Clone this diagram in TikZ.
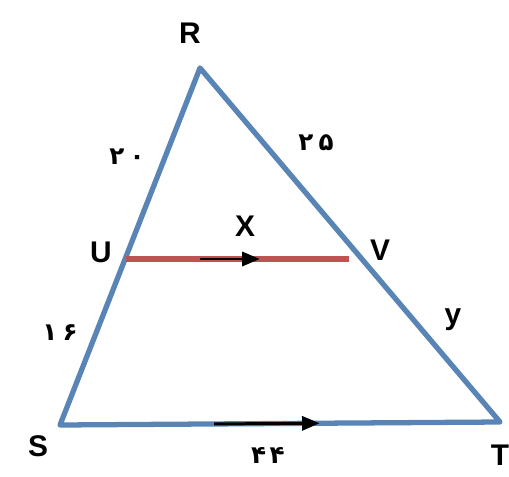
\documentclass[tikz,border=0pt]{standalone}
\usepackage{fontspec}
\setmainfont{Liberation Sans}
\newfontfamily\persianfont[Script=Arabic]{DejaVu Sans}
\usetikzlibrary{arrows.meta,calc}
\definecolor{sideblue}{RGB}{88,132,182}
\definecolor{midred}{RGB}{190,84,82}
\tikzset{
  vertexlabel/.style={font=\fontsize{17}{20}\selectfont\bfseries, inner sep=0pt},
  sidelabel/.style={font=\persianfont\bfseries\fontsize{14}{16}\selectfont, inner sep=0pt},
  side/.style={sideblue, line width=3pt, line join=round},
  parallel/.style={-{Triangle[length=10pt,width=8pt]}, line width=1.7pt, black}
}
\begin{document}
\begin{tikzpicture}[x=0.02cm,y=-0.02cm]
    \useasboundingbox (0,0) rectangle (509,476);
    % Vertices
    \coordinate (R) at (200,68);
    \coordinate (S) at (60,425);
    \coordinate (T) at (500,422);
    \coordinate (U) at (126,259);
    \coordinate (V) at (349,259);
    % Triangle
    \draw[side] (R) -- (S) -- (T) -- cycle;
    % Segment UV
    \draw[midred, line width=3.8pt] (U) -- (V);
    % Parallel marks
    \draw[parallel] ($(U)!0.33!(V)$) -- ($(U)!0.6!(V)$);
    \draw[parallel] ($(S)!0.35!(T)$) -- ($(S)!0.59!(T)$);
    % Letters
    \node[vertexlabel] (labR) at (190,33) {R};
    \node[vertexlabel] (labU) at (101,252) {U};
    \node[vertexlabel] (labV) at (380,250) {V};
    \node[vertexlabel] (labX) at (245,226) {X};
    \node[vertexlabel] (laby) at (453,320) {y};
    \node[vertexlabel] (labS) at (38,446) {S};
    \node[vertexlabel] (labT) at (500,455) {T};
    % Lengths
    \node[sidelabel] (lenRU) at (127,157) {۲\kern3pt ۰};
    \node[sidelabel] (lenRV) at (316,143) {۲\kern3pt ۵};
    \node[sidelabel] (lenUS) at (60,333) {۱\kern3pt ۶};
    \node[sidelabel] (lenST) at (268,455) {۴\kern2pt ۴};
\end{tikzpicture}
\end{document}
